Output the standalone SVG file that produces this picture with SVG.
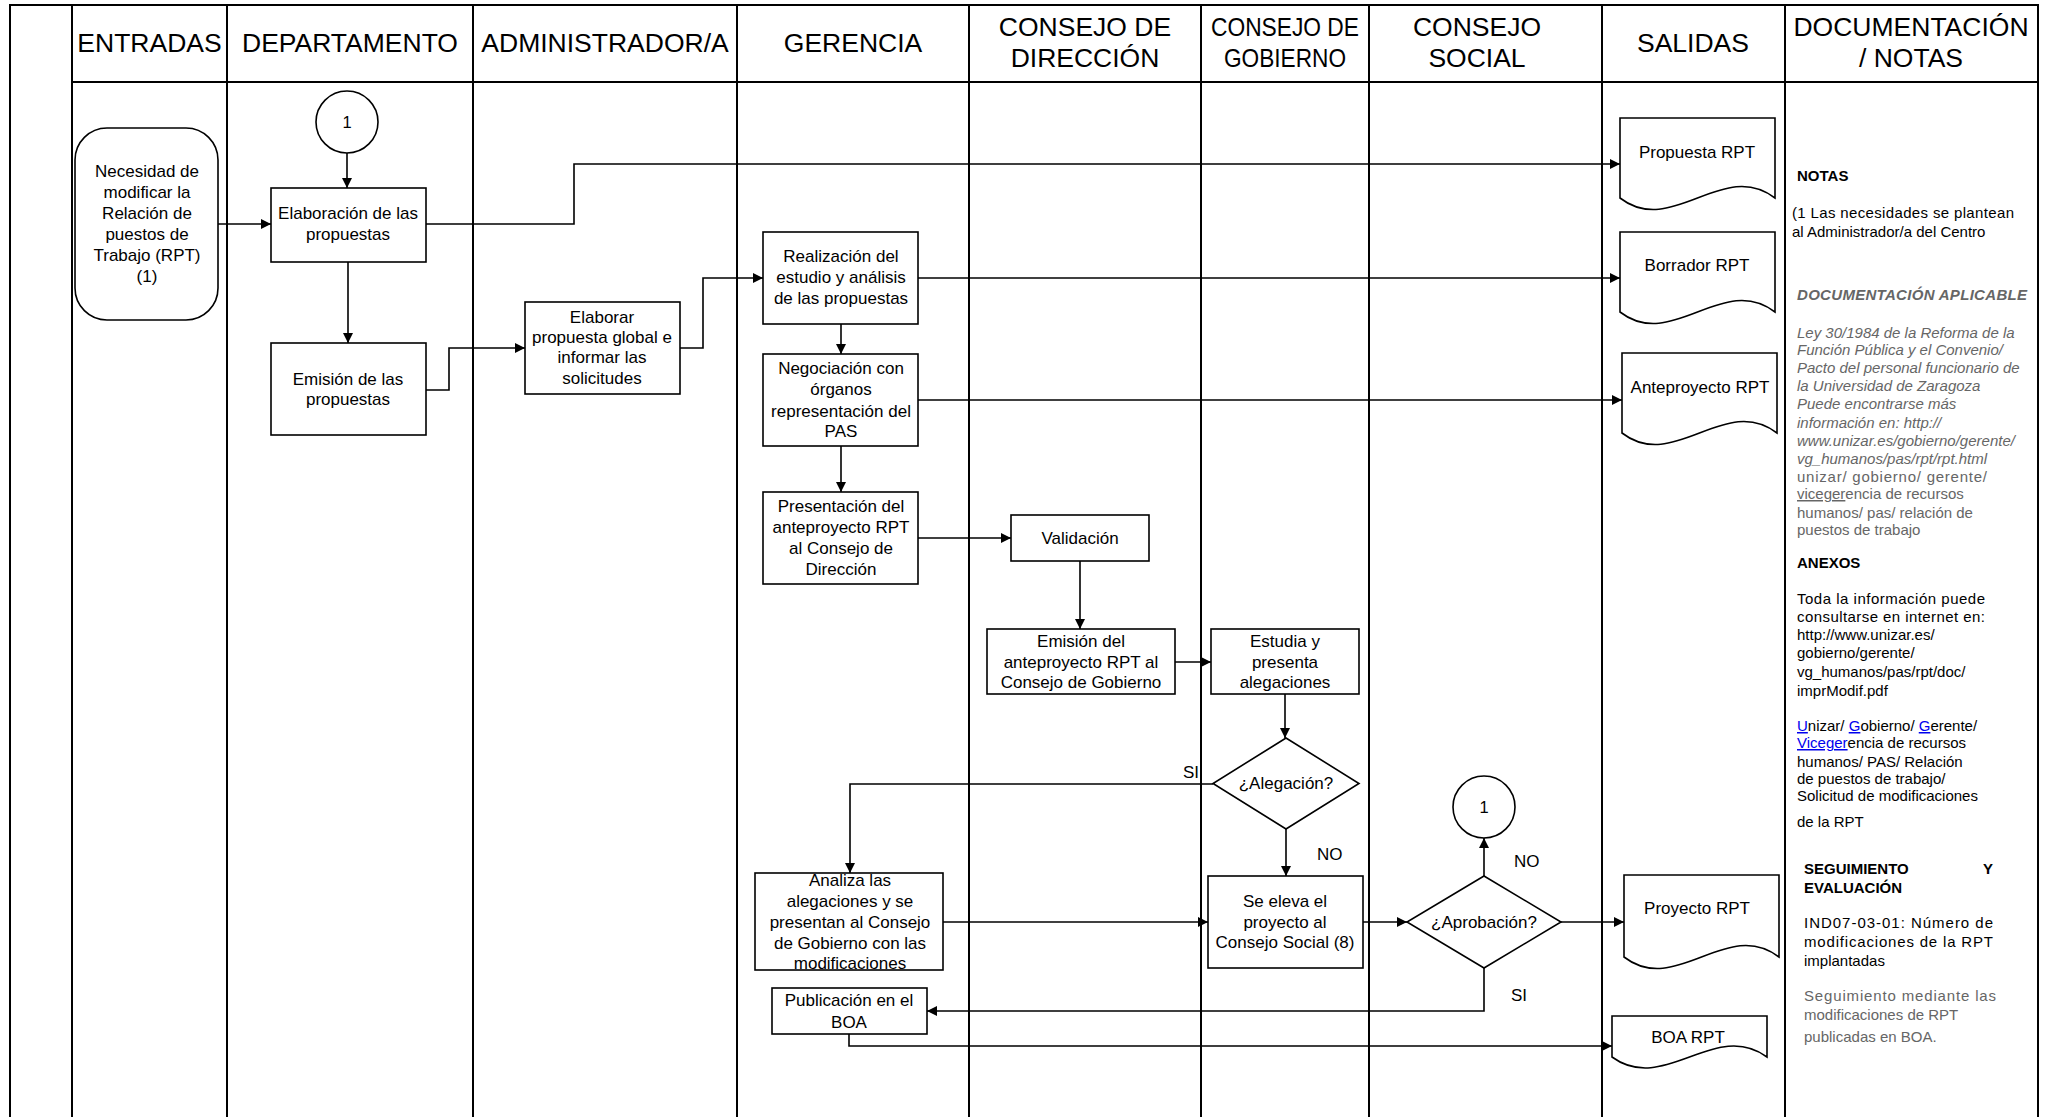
<svg xmlns="http://www.w3.org/2000/svg" width="2045" height="1117" viewBox="0 0 2045 1117">
<style>
.grid{stroke:#000;stroke-width:2;fill:none}
.box{fill:#fff;stroke:#000;stroke-width:1.6}
.con{fill:none;stroke:#000;stroke-width:1.6}
.hd{font-family:"Liberation Sans",Arial,sans-serif;font-size:26.5px;fill:#000;text-anchor:middle}
.t{font-family:"Liberation Sans",Arial,sans-serif;font-size:17px;fill:#000;text-anchor:middle}
.lb{font-family:"Liberation Sans",Arial,sans-serif;font-size:17px;fill:#000}
.n{font-family:"Liberation Sans",Arial,sans-serif;font-size:15px;fill:#000}
.nb{font-family:"Liberation Sans",Arial,sans-serif;font-size:15px;font-weight:bold;fill:#000}
.gi{font-family:"Liberation Sans",Arial,sans-serif;font-size:15px;font-style:italic;fill:#666}
.g{font-family:"Liberation Sans",Arial,sans-serif;font-size:15px;fill:#666}
.lk{fill:#0000ee;text-decoration:underline}
</style>
<defs>
<marker id="arr" viewBox="0 0 10 10" refX="10" refY="5" markerWidth="11" markerHeight="10" markerUnits="userSpaceOnUse" orient="auto">
<path d="M0,0 L10,5 L0,10 Z" fill="#000"/>
</marker>
</defs>
<rect width="2045" height="1117" fill="#fff"/>
<g id="grid">
<path class="grid" d="M10,1117 V5 H2038 V1117"/>
<path class="grid" d="M72,82 H2038"/>
<path class="grid" d="M72,5 V1117 M227,5 V1117 M473,5 V1117 M737,5 V1117 M969,5 V1117 M1201,5 V1117 M1369,5 V1117 M1602,5 V1117 M1785,5 V1117"/>
</g>
<g id="headers">
<text class="hd" x="149.5" y="52">ENTRADAS</text>
<text class="hd" x="350" y="52">DEPARTAMENTO</text>
<text class="hd" x="605" y="52">ADMINISTRADOR/A</text>
<text class="hd" x="853" y="52">GERENCIA</text>
<text class="hd" x="1085" y="36">CONSEJO DE</text>
<text class="hd" x="1085" y="67">DIRECCIÓN</text>
<text class="hd" x="1285" y="36" textLength="148" lengthAdjust="spacingAndGlyphs">CONSEJO DE</text>
<text class="hd" x="1285" y="67" textLength="122" lengthAdjust="spacingAndGlyphs">GOBIERNO</text>
<text class="hd" x="1477" y="36">CONSEJO</text>
<text class="hd" x="1477" y="67">SOCIAL</text>
<text class="hd" x="1693" y="52">SALIDAS</text>
<text class="hd" x="1911" y="36">DOCUMENTACIÓN</text>
<text class="hd" x="1911" y="67">/ NOTAS</text>
</g>
<g id="connectors">
<path class="con" d="M347,153 V188" marker-end="url(#arr)"/>
<path class="con" d="M218,224 H271" marker-end="url(#arr)"/>
<path class="con" d="M348,262 V343" marker-end="url(#arr)"/>
<path class="con" d="M426,224 H574 V164 H1620" marker-end="url(#arr)"/>
<path class="con" d="M426,390 H449 V348 H525" marker-end="url(#arr)"/>
<path class="con" d="M680,348 H703 V278 H763" marker-end="url(#arr)"/>
<path class="con" d="M918,278 H1620" marker-end="url(#arr)"/>
<path class="con" d="M841,324 V354" marker-end="url(#arr)"/>
<path class="con" d="M918,400 H1622" marker-end="url(#arr)"/>
<path class="con" d="M841,446 V492" marker-end="url(#arr)"/>
<path class="con" d="M918,538 H1011" marker-end="url(#arr)"/>
<path class="con" d="M1080,561 V629" marker-end="url(#arr)"/>
<path class="con" d="M1175,662 H1211" marker-end="url(#arr)"/>
<path class="con" d="M1285,694 V738" marker-end="url(#arr)"/>
<path class="con" d="M1213,784 H850 V873" marker-end="url(#arr)"/>
<path class="con" d="M1286,829 V876" marker-end="url(#arr)"/>
<path class="con" d="M943,922 H1208" marker-end="url(#arr)"/>
<path class="con" d="M1363,922 H1407" marker-end="url(#arr)"/>
<path class="con" d="M1484,876 V838" marker-end="url(#arr)"/>
<path class="con" d="M1561,922 H1624" marker-end="url(#arr)"/>
<path class="con" d="M1484,968 V1011 H927" marker-end="url(#arr)"/>
<path class="con" d="M849,1034 V1046 H1612" marker-end="url(#arr)"/>
<text class="lb" x="1183" y="778">SI</text>
<text class="lb" x="1317" y="860">NO</text>
<text class="lb" x="1514" y="867">NO</text>
<text class="lb" x="1511" y="1001">SI</text>
</g>
<g id="n-circle1">
<circle class="box" cx="347" cy="122" r="31"/>
<text class="t" x="347" y="128" style="font-size:16.5px">1</text>
</g>
<g id="n-necesidad">
<rect class="box" x="75" y="128" width="143" height="192" rx="32" ry="32"/>
<text class="t" x="147" y="177">Necesidad de</text>
<text class="t" x="147" y="198">modificar la</text>
<text class="t" x="147" y="219">Relación de</text>
<text class="t" x="147" y="240">puestos de</text>
<text class="t" x="147" y="261">Trabajo (RPT)</text>
<text class="t" x="147" y="282">(1)</text>
</g>
<g id="n-elaboracion">
<rect class="box" x="271" y="188" width="155" height="74"/>
<text class="t" x="348" y="219">Elaboración de las</text>
<text class="t" x="348" y="240">propuestas</text>
</g>
<g id="n-emision">
<rect class="box" x="271" y="343" width="155" height="92"/>
<text class="t" x="348" y="385">Emisión de las</text>
<text class="t" x="348" y="405">propuestas</text>
</g>
<g id="n-elaborar">
<rect class="box" x="525" y="302" width="155" height="92"/>
<text class="t" x="602" y="323">Elaborar</text>
<text class="t" x="602" y="343">propuesta global e</text>
<text class="t" x="602" y="363">informar las</text>
<text class="t" x="602" y="384">solicitudes</text>
</g>
<g id="n-realizacion">
<rect class="box" x="763" y="232" width="155" height="92"/>
<text class="t" x="841" y="262">Realización del</text>
<text class="t" x="841" y="283">estudio y análisis</text>
<text class="t" x="841" y="304">de las propuestas</text>
</g>
<g id="n-negociacion">
<rect class="box" x="763" y="354" width="155" height="92"/>
<text class="t" x="841" y="374">Negociación con</text>
<text class="t" x="841" y="395">órganos</text>
<text class="t" x="841" y="417">representación del</text>
<text class="t" x="841" y="437">PAS</text>
</g>
<g id="n-presentacion">
<rect class="box" x="763" y="492" width="155" height="92"/>
<text class="t" x="841" y="512">Presentación del</text>
<text class="t" x="841" y="533">anteproyecto RPT</text>
<text class="t" x="841" y="554">al Consejo de</text>
<text class="t" x="841" y="575">Dirección</text>
</g>
<g id="n-validacion">
<rect class="box" x="1011" y="515" width="138" height="46"/>
<text class="t" x="1080" y="544">Validación</text>
</g>
<g id="n-emision-ante">
<rect class="box" x="987" y="629" width="188" height="65"/>
<text class="t" x="1081" y="647">Emisión del</text>
<text class="t" x="1081" y="668">anteproyecto RPT al</text>
<text class="t" x="1081" y="688">Consejo de Gobierno</text>
</g>
<g id="n-estudia">
<rect class="box" x="1211" y="629" width="148" height="65"/>
<text class="t" x="1285" y="647">Estudia y</text>
<text class="t" x="1285" y="668">presenta</text>
<text class="t" x="1285" y="688">alegaciones</text>
</g>
<g id="n-alegacion">
<path class="box" d="M1286,738 L1359,783.5 L1286,829 L1213,783.5 Z"/>
<text class="t" x="1286" y="789">¿Alegación?</text>
</g>
<g id="n-analiza">
<rect class="box" x="755" y="873" width="188" height="97"/>
<text class="t" x="850" y="886">Analiza las</text>
<text class="t" x="850" y="907">alegaciones y se</text>
<text class="t" x="850" y="928">presentan al Consejo</text>
<text class="t" x="850" y="949">de Gobierno con las</text>
<text class="t" x="850" y="969">modificaciones</text>
</g>
<g id="n-seeleva">
<rect class="box" x="1208" y="876" width="155" height="92"/>
<text class="t" x="1285" y="907">Se eleva el</text>
<text class="t" x="1285" y="928">proyecto al</text>
<text class="t" x="1285" y="948">Consejo Social (8)</text>
</g>
<g id="n-aprobacion">
<path class="box" d="M1484,876 L1561,922 L1484,968 L1407,922 Z"/>
<text class="t" x="1484" y="928">¿Aprobación?</text>
</g>
<g id="n-circle2">
<circle class="box" cx="1484" cy="807" r="31"/>
<text class="t" x="1484" y="813" style="font-size:16.5px">1</text>
</g>
<g id="n-publicacion">
<rect class="box" x="772" y="988" width="155" height="46"/>
<text class="t" x="849" y="1006">Publicación en el</text>
<text class="t" x="849" y="1028">BOA</text>
</g>
<g id="n-propuesta-rpt">
<path class="box" d="M1620,118 H1775 V198 C1723,158 1672,238 1620,198 Z"/>
<text class="t" x="1697" y="158">Propuesta RPT</text>
</g>
<g id="n-borrador-rpt">
<path class="box" d="M1620,232 H1775 V312 C1723,272 1672,352 1620,312 Z"/>
<text class="t" x="1697" y="271">Borrador RPT</text>
</g>
<g id="n-anteproyecto-rpt">
<path class="box" d="M1622,353 H1777 V433 C1725,393 1674,473 1622,433 Z"/>
<text class="t" x="1700" y="393">Anteproyecto RPT</text>
</g>
<g id="n-proyecto-rpt">
<path class="box" d="M1624,875 H1779 V957 C1727,917 1676,997 1624,957 Z"/>
<text class="t" x="1697" y="914">Proyecto RPT</text>
</g>
<g id="n-boa-rpt">
<path class="box" d="M1612,1016 H1767 V1057 C1715,1019 1664,1095 1612,1057 Z"/>
<text class="t" x="1688" y="1043">BOA RPT</text>
</g>
<g id="notes">
<text class="nb" x="1797" y="181">NOTAS</text>
<text class="n" x="1792" y="218" textLength="222" lengthAdjust="spacing">(1 Las necesidades se plantean</text>
<text class="n" x="1792" y="237">al Administrador/a del Centro</text>
<text class="gi" x="1797" y="300" font-weight="bold" fill="#555" textLength="230" lengthAdjust="spacing">DOCUMENTACIÓN APLICABLE</text>
<text class="gi" x="1797" y="338">Ley 30/1984 de la Reforma de la</text>
<text class="gi" x="1797" y="355">Función Pública y el Convenio/</text>
<text class="gi" x="1797" y="373">Pacto del personal funcionario de</text>
<text class="gi" x="1797" y="391">la Universidad de Zaragoza</text>
<text class="gi" x="1797" y="409">Puede encontrarse más</text>
<text class="gi" x="1797" y="428">información en: http://</text>
<text class="gi" x="1797" y="446">www.unizar.es/gobierno/gerente/</text>
<text class="gi" x="1797" y="464">vg_humanos/pas/rpt/rpt.html</text>
<text class="g" x="1797" y="482" textLength="190" lengthAdjust="spacing">unizar/ gobierno/ gerente/</text>
<text class="g" x="1797" y="499"><tspan text-decoration="underline">viceger</tspan>encia de recursos</text>
<text class="g" x="1797" y="518">humanos/ pas/ relación de</text>
<text class="g" x="1797" y="535">puestos de trabajo</text>
<text class="nb" x="1797" y="568">ANEXOS</text>
<text class="n" x="1797" y="604" textLength="188" lengthAdjust="spacing">Toda la información puede</text>
<text class="n" x="1797" y="622" textLength="188" lengthAdjust="spacing">consultarse en internet en:</text>
<text class="n" x="1797" y="640">http://www.unizar.es/</text>
<text class="n" x="1797" y="658">gobierno/gerente/</text>
<text class="n" x="1797" y="677">vg_humanos/pas/rpt/doc/</text>
<text class="n" x="1797" y="696">imprModif.pdf</text>
<text class="n" x="1797" y="731"><tspan class="lk">U</tspan>nizar/ <tspan class="lk">G</tspan>obierno/ <tspan class="lk">G</tspan>erente/</text>
<text class="n" x="1797" y="748"><tspan class="lk">Viceger</tspan>encia de recursos</text>
<text class="n" x="1797" y="767">humanos/ PAS/ Relación</text>
<text class="n" x="1797" y="784">de puestos de trabajo/</text>
<text class="n" x="1797" y="801">Solicitud de modificaciones</text>
<text class="n" x="1797" y="827">de la RPT</text>
<text class="nb" x="1804" y="874">SEGUIMIENTO</text>
<text class="nb" x="1993" y="874" text-anchor="end">Y</text>
<text class="nb" x="1804" y="893">EVALUACIÓN</text>
<text class="n" x="1804" y="928" textLength="189" lengthAdjust="spacing" fill="#222">IND07-03-01: Número de</text>
<text class="n" x="1804" y="947" textLength="189" lengthAdjust="spacing" fill="#222">modificaciones de la RPT</text>
<text class="n" x="1804" y="966" fill="#222">implantadas</text>
<text class="g" x="1804" y="1001" fill="#555" textLength="192" lengthAdjust="spacing">Seguimiento mediante las</text>
<text class="g" x="1804" y="1020" fill="#555">modificaciones de RPT</text>
<text class="g" x="1804" y="1042" fill="#555">publicadas en BOA.</text>
</g>
</svg>
